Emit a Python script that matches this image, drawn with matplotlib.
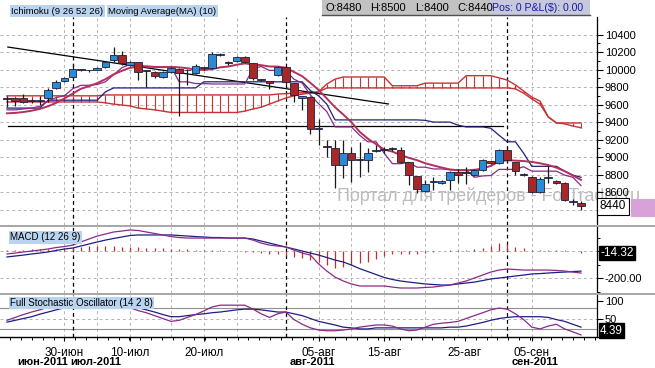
import numpy as np
import matplotlib
matplotlib.use("Agg")
import matplotlib.pyplot as plt
import matplotlib.transforms as mtransforms
from matplotlib.patches import Rectangle

plt.rcParams['font.family'] = ['Liberation Sans', 'DejaVu Sans']

W, H, DPI = 655, 368, 100

# ---------------- data ----------------
opens = [9665, 9675, 9675, 9650, 9645, 9675, 9790, 9870, 9915, 10000,
         9990, 9995, 10030, 10110, 10165, 10050, 10085, 9995, 9970, 9915,
         9970, 10005, 9995, 9960, 10020, 10015, 10170, 10085, 10095, 10145,
         10075, 9880, 9870, 9940, 10030, 9845, 9675, 9685, 9320, 9130,
         9105, 8910, 9045, 8970, 8965, 9070, 9080, 9095, 9080, 8945,
         8785, 8615, 8715, 8705, 8740, 8830, 8830, 8795, 8855, 8955,
         8935, 9080, 8945, 8800, 8775, 8600, 8760, 8725, 8705, 8490, 8480]
highs = [9700, 9680, 9720, 9660, 9700, 9790, 9880, 9910, 10060, 10010,
         10000, 10030, 10090, 10255, 10210, 10100, 10090, 10000, 9980, 9980,
         10030, 10020, 10005, 10060, 10030, 10200, 10190, 10100, 10150, 10150,
         10080, 9890, 9870, 10040, 10040, 9850, 9700, 9700, 9435, 9195,
         9195, 9195, 9115, 9175, 9100, 9140, 9110, 9110, 9115, 8950,
         8790, 8740, 8775, 8740, 8840, 8860, 8890, 8870, 8980, 8960,
         9090, 9090, 8950, 8820, 8790, 8770, 8900, 8740, 8720, 8520, 8500]
lows = [9570, 9580, 9620, 9620, 9600, 9630, 9780, 9860, 9900, 9980,
        9970, 9990, 10020, 10085, 10050, 10040, 9880, 9800, 9900, 9900,
        9960, 9470, 9825, 9950, 10000, 10005, 10160, 10050, 10090, 10080,
        9880, 9870, 9780, 9930, 9840, 9630, 9540, 9265, 9140, 9000,
        8650, 8760, 8715, 8775, 8830, 9060, 9050, 9070, 8930, 8680,
        8590, 8600, 8625, 8690, 8625, 8705, 8690, 8780, 8840, 8920,
        8920, 8950, 8795, 8780, 8590, 8590, 8700, 8690, 8500, 8450, 8400]
closes = [9660, 9640, 9630, 9640, 9650, 9765, 9860, 9905, 10005, 10000,
          9995, 10020, 10085, 10165, 10075, 10085, 9970, 9980, 9925, 9970,
          10020, 9960, 9990, 10040, 10015, 10175, 10180, 10080, 10145, 10085,
          9905, 9880, 9845, 10030, 9860, 9710, 9700, 9320, 9335, 9115,
          8910, 9045, 8965, 8965, 9045, 9075, 9085, 9090, 8945, 8795,
          8635, 8695, 8720, 8725, 8830, 8795, 8820, 8855, 8965, 8935,
          9080, 8965, 8840, 8795, 8600, 8750, 8760, 8705, 8510, 8490, 8440]

ma10 = [9500, 9505, 9515, 9530, 9550, 9580, 9620, 9670, 9725, 9780,
        9810, 9845, 9890, 9945, 9985, 10020, 10030, 10038, 10030, 10027,
        10030, 10025, 10015, 10000, 9995, 10005, 10025, 10035, 10055, 10070,
        10058, 10050, 10035, 10034, 10020, 9972, 9924, 9848, 9767, 9670,
        9570, 9487, 9399, 9290, 9211, 9148, 9086, 9063, 9024, 8992,
        8965, 8930, 8905, 8881, 8860, 8850, 8850, 8855, 8870, 8900,
        8950, 8965, 8960, 8955, 8945, 8930, 8910, 8880, 8840, 8790, 8740]
tenkan = [9540, 9540, 9550, 9560, 9580, 9640, 9680, 9700, 9780, 9820,
          9820, 9830, 9860, 9940, 10020, 10060, 10065, 10030, 10030, 10030,
          10030, 9860, 9860, 9840, 9840, 9835, 9835, 9835, 9835, 9835,
          10010, 10035, 9990, 9990, 9985, 9890, 9845, 9710, 9610, 9520,
          9345, 9345, 9345, 9250, 9175, 9175, 9045, 8925, 8925, 8940,
          8885, 8885, 8865, 8865, 8855, 8855, 8855, 8770, 8785, 8790,
          8860, 8860, 8860, 8890, 8840, 8840, 8840, 8840, 8795, 8770, 8675]
kijun = [9560, 9560, 9560, 9560, 9560, 9650, 9650, 9650, 9650, 9650,
         9650, 9650, 9745, 9790, 9790, 9790, 9790, 9790, 9790, 9790,
         9790, 9790, 9790, 9790, 9860, 9860, 9860, 9860, 9860, 9860,
         9860, 9860, 9860, 9860, 9860, 9860, 9860, 9760, 9700, 9605,
         9425, 9425, 9425, 9425, 9425, 9425, 9425, 9425, 9425, 9425,
         9425, 9420, 9400, 9400, 9400, 9365, 9345, 9345, 9345, 9330,
         9250, 9175, 9175, 9045, 8895, 8895, 8895, 8895, 8840, 8795, 8770]
span_a = [9700, 9700, 9700, 9700, 9700, 9700, 9700, 9700, 9700, 9700,
          9700, 9700, 9710, 9710, 9710, 9710, 9710, 9710, 9710, 9710,
          9710, 9710, 9710, 9710, 9710, 9710, 9710, 9710, 9710, 9710,
          9710, 9710, 9710, 9720, 9725, 9730, 9735, 9740, 9745, 9835,
          9890, 9915, 9915, 9915, 9915, 9915, 9915, 9815, 9815, 9815,
          9815, 9845, 9845, 9845, 9845, 9845, 9930, 9930, 9930, 9930,
          9905, 9880, 9825, 9755, 9685, 9640, 9460, 9390, 9380, 9355, 9335]
span_b = [9630, 9630, 9630, 9630, 9630, 9630, 9630, 9630, 9630, 9630,
          9630, 9630, 9620, 9605, 9595, 9585, 9560, 9550, 9540, 9525,
          9510, 9510, 9510, 9510, 9510, 9510, 9510, 9510, 9510, 9525,
          9550, 9570, 9605, 9640, 9675, 9700, 9720, 9730, 9745, 9790,
          9790, 9790, 9790, 9790, 9790, 9790, 9790, 9790, 9790, 9790,
          9790, 9790, 9790, 9790, 9790, 9790, 9790, 9790, 9790, 9790,
          9790, 9790, 9780, 9730, 9665, 9605, 9460, 9390, 9390, 9390, 9390]

trend_x = [0.1, 46.5]
trend_y = [10257, 9607]
support_x = [0.1, 60.5]
support_level = 9355

macd = [-22, -15, -7, 0, 7, 15, 26, 33, 44, 67,
        89, 111, 126, 141, 148, 156, 152, 141, 130, 119,
        107, 100, 96, 96, 96, 96, 96, 96, 96, 96,
        81, 59, 44, 37, 30, 7, -15, -30, -96, -148,
        -193, -222, -244, -259, -259, -259, -259, -267, -274, -274,
        -274, -270, -267, -259, -252, -237, -222, -200, -178, -156,
        -141, -133, -137, -141, -141, -141, -141, -144, -148, -156, -163]
macd_signal = [-44, -37, -30, -22, -15, -7, 4, 15, 22, 37,
               52, 67, 81, 93, 104, 115, 119, 119, 119, 119,
               119, 115, 111, 107, 104, 100, 100, 96, 96, 96,
               89, 74, 59, 44, 30, 15, 0, -15, -30, -48,
               -67, -81, -104, -130, -152, -174, -196, -211, -222, -230,
               -237, -244, -248, -252, -252, -244, -237, -230, -219, -207,
               -200, -193, -185, -178, -170, -167, -163, -159, -156, -152, -149]
macd_hist = [5, 8, 10, 12, 15, 15, 18, 20, 25, 30,
             35, 37, 37, 35, 33, 30, 28, 25, 22, 20,
             18, 15, 12, 10, 8, 6, 4, 2, 0, -5,
             -10, -15, -20, -25, -35, -44, -52, -67, -85, -104,
             -123, -115, -104, -89, -81, -59, -37, -25, -20, -25,
             -20, -15, -10, 3, 5, 8, 10, 15, 22, 37,
             57, 50, 30, 22, 10, 8, 8, 6, 4, 2, -14.32]

stoch_k = [45, 53, 61, 68, 74, 82, 87, 90, 92, 90,
           88, 90, 92, 92, 85, 80, 72, 66, 58, 50,
           42, 45, 53, 61, 71, 82, 87, 87, 87, 87,
           76, 63, 53, 63, 68, 47, 34, 24, 18, 16,
           16, 18, 21, 26, 29, 32, 32, 29, 21, 16,
           18, 26, 34, 37, 39, 42, 50, 58, 66, 74,
           79, 76, 63, 47, 26, 21, 29, 34, 21, 13, 4.39]
stoch_d = [40, 45, 50, 55, 62, 68, 74, 80, 84, 86,
           87, 88, 88, 89, 88, 85, 80, 74, 68, 61,
           55, 55, 58, 61, 63, 66, 68, 71, 74, 76,
           76, 74, 71, 68, 68, 63, 58, 50, 42, 37,
           32, 26, 24, 21, 21, 24, 24, 24, 24, 24,
           24, 24, 24, 24, 26, 26, 29, 34, 39, 45,
           50, 53, 55, 55, 55, 55, 53, 47, 42, 34, 26]

day_tick_pos = [7, 15, 24, 38, 46, 55.8, 64]
day_tick_labels = ['30-июн', '10-июл', '20-июл', '05-авг', '15-авг', '25-авг', '05-сен']
grid_pos = [7, 11, 15, 20, 24, 28, 38, 42, 46, 51, 55, 59, 64]
month_start_pos = [8, 34, 61]
month_labels = ['июн-2011', 'июл-2011', 'авг-2011', 'сен-2011']
month_label_pos = [7.45, 7.7, 34.5, 61.5]
month_label_ha = ['right', 'left', 'left', 'left']
price_ticks = [8400, 8600, 8800, 9000, 9200, 9400, 9600, 9800, 10000, 10200, 10400]

# ---------------- layout helpers ----------------
n = len(closes)
bars = np.arange(n)
X0, DX, XR = 7.0, 8.2, 597.0
xlim = ((0 - X0) / DX, (XR - X0) / DX)

fig = plt.figure(figsize=(W / DPI, H / DPI), dpi=DPI)
fig.patch.set_facecolor('white')


def add_panel(top, bottom):
    return fig.add_axes([0, 1 - bottom / H, XR / W, (bottom - top) / H])


def ftxt(x, y, s, **kw):
    return fig.text(x / W, 1 - y / H, s, **kw)


ax_p = add_panel(17, 225)
ax_m = add_panel(227, 293)
ax_s = add_panel(295, 336.5)
ax_p.set_ylim(8225, 10600)
ax_m.set_ylim(-311, 178)
ax_s.set_ylim(0, 115.3)

GRID = '#b4b4b4'
for ax in (ax_p, ax_m, ax_s):
    ax.set_xlim(*xlim)
    ax.set_facecolor('white')
    for sp in ('top', 'left', 'bottom'):
        ax.spines[sp].set_visible(False)
    ax.spines['right'].set_color('black')
    ax.spines['right'].set_linewidth(0.9)
    ax.yaxis.tick_right()
    ax.tick_params(axis='y', which='major', length=4, width=0.8, pad=1.5,
                   labelsize=8, colors='black', direction='out')
    ax.tick_params(axis='y', which='minor', length=2, width=0.7, direction='out')
    ax.tick_params(axis='x', which='both', bottom=False, labelbottom=False)
    for g in grid_pos:
        ax.axvline(g, color=GRID, lw=0.7, ls=(0, (3, 3)), zorder=0.5)
    for m in month_start_pos:
        ax.axvline(m, color='black', lw=0.9, ls=(0, (3, 2.5)), zorder=0.6)

# separators
for y0 in (225, 293):
    fig.add_artist(Rectangle((0, 1 - (y0 + 2.2) / H), 1, 2.2 / H, transform=fig.transFigure,
                             fc='#a8a8a8', ec='none', zorder=5))

# ---------------- price panel ----------------
for p in price_ticks:
    ax_p.axhline(p, color=GRID, lw=0.7, ls=(0, (3, 3)), zorder=0.5)
ax_p.set_yticks(price_ticks)
# the lowest level label sits under the last-price box in the reference
ax_p.set_yticklabels([''] + [str(p) for p in price_ticks[1:]])
ax_p.set_yticks([p + 100 for p in price_ticks[:-1]], minor=True)

ax_p.text(337 / W, 1 - 201 / H, 'Портал для трейдеров - ForTrader.ru', transform=fig.transFigure,
          fontsize=12.9, color='#bcbcbc', ha='left', va='baseline', zorder=1, clip_on=False)

CLOUD = '#c83232'
ax_p.vlines(bars, span_a, span_b, color=CLOUD, lw=0.8, zorder=1.5)
ax_p.plot(bars, span_a, color=CLOUD, lw=1.0, zorder=1.6)
ax_p.plot(bars, span_b, color=CLOUD, lw=1.0, zorder=1.6)

ax_p.plot(trend_x, trend_y, color='black', lw=0.9, zorder=2)
ax_p.plot(support_x, [support_level, support_level], color='black', lw=0.9, zorder=2)

ax_p.plot(bars, kijun, color='#1e1e7a', lw=0.9, zorder=2.2)
ax_p.plot(bars, tenkan, color='#8a2a86', lw=0.9, zorder=2.3)
ax_p.plot(bars, ma10, color='#b5305a', lw=1.4, zorder=2.4)

ax_p.vlines(bars, lows, highs, color='#1a1a1a', lw=0.9, zorder=3)
body_bottom = [min(o, c) for o, c in zip(opens, closes)]
body_h = [max(abs(c - o), 10) for o, c in zip(opens, closes)]
body_col = ['#2b8ad6' if c > o else ('#a82828' if c < o else '#4a6a8a')
            for o, c in zip(opens, closes)]
ax_p.bar(bars, body_h, bottom=body_bottom, width=0.92, color=body_col,
         edgecolor='#20203a', linewidth=0.6, zorder=4)

blend_p = mtransforms.blended_transform_factory(ax_p.transAxes, ax_p.transData)
ax_p.text(1 + 3 / XR, closes[-1], str(closes[-1]), transform=blend_p, fontsize=8.5,
          ha='left', va='center', zorder=10, clip_on=False,
          bbox=dict(boxstyle='square,pad=0.22', fc='white', ec='black', lw=0.8))
fig.add_artist(Rectangle((631 / W, 1 - 217 / H), 24 / W, 18 / H, transform=fig.transFigure,
                         fc='#d8a2d8', ec='none', zorder=4))

# header
ftxt(11, 11, 'Ichimoku (9 26 52 26)', fontsize=6.8, va='center', ha='left',
     bbox=dict(boxstyle='square,pad=0.15', fc='#b8d4f0', ec='none'))
ftxt(108, 11, 'Moving Average(MA) (10)', fontsize=6.8, va='center', ha='left',
     bbox=dict(boxstyle='square,pad=0.15', fc='#b8d4f0', ec='none'))
fig.add_artist(Rectangle((322 / W, 1 - 15 / H), 268 / W, 15 / H, transform=fig.transFigure,
                         fc='#c2c2c2', ec='none'))
fig.add_artist(Rectangle((490 / W, 1 - 15 / H), 100 / W, 15 / H, transform=fig.transFigure,
                         fc='#c6c8dc', ec='none'))
fig.add_artist(plt.Line2D([322 / W, 590 / W], [1 - 15 / H, 1 - 15 / H], transform=fig.transFigure,
                          color='#505050', lw=1))
ftxt(325, 8, f'O:{opens[-1]}', fontsize=8, va='center')
ftxt(370, 8, f'H:{highs[-1]}', fontsize=8, va='center')
ftxt(415, 8, f'L:{lows[-1]}', fontsize=8, va='center')
ftxt(457, 8, f'C:{closes[-1]}', fontsize=8, va='center')
ftxt(492, 8, 'Pos: 0 P&L($): 0.00', fontsize=7.6, va='center', color='#1a1aa8')

# ---------------- MACD panel ----------------
for v in (0, -200):
    ax_m.axhline(v, color=GRID, lw=0.7, ls=(0, (3, 3)), zorder=0.5)
ax_m.vlines(bars, 0, macd_hist, color='#c03030', lw=0.9, zorder=2)
ax_m.plot(bars, macd_signal, color='#1e1e80', lw=0.9, zorder=3)
ax_m.plot(bars, macd, color='#8a2a8a', lw=0.9, zorder=3)
ax_m.set_yticks([0, -200])
ax_m.set_yticklabels(['0.00', '-200.00'])
ax_m.set_yticks([100, -100, -300], minor=True)
blend_m = mtransforms.blended_transform_factory(ax_m.transAxes, ax_m.transData)
ax_m.text(1 + 3.5 / XR, macd_hist[-1], f'{macd_hist[-1]:.2f}', transform=blend_m, fontsize=8.5,
          color='white', ha='left', va='center', zorder=10, clip_on=False,
          bbox=dict(boxstyle='square,pad=0.12', fc='black', ec='black'))
ftxt(10, 237.5, 'MACD (12 26 9)', fontsize=7, va='center', ha='left', zorder=10,
     bbox=dict(boxstyle='square,pad=0.15', fc='#b8d4f0', ec='none'))

# ---------------- Stochastic panel ----------------
for v in (80, 20):
    ax_s.axhline(v, color='#909090', lw=0.8, zorder=0.5)
ax_s.axhline(50, color=GRID, lw=0.7, ls=(0, (3, 3)), zorder=0.5)
ax_s.plot(bars, stoch_d, color='#1e1e80', lw=0.9, zorder=3)
ax_s.plot(bars, stoch_k, color='#8a2a8a', lw=0.9, zorder=3)
ax_s.set_yticks([100, 50, 0])
ax_s.set_yticklabels(['100', '50', ''])
ax_s.spines['bottom'].set_visible(True)
ax_s.spines['bottom'].set_color('black')
ax_s.spines['bottom'].set_linewidth(1.0)
blend_s = mtransforms.blended_transform_factory(ax_s.transAxes, ax_s.transData)
ax_s.annotate(f'{stoch_k[-1]:.2f}', xy=(1 + 3 / XR, stoch_k[-1]), xycoords=blend_s,
              xytext=(0, 3), textcoords='offset points', fontsize=8.5, color='white',
              ha='left', va='center', zorder=10, annotation_clip=False,
              bbox=dict(boxstyle='square,pad=0.12', fc='black', ec='black'))
ftxt(10, 303, 'Full Stochastic Oscillator (14 2 8)', fontsize=7, va='center', ha='left', zorder=10,
     bbox=dict(boxstyle='square,pad=0.15', fc='#b8d4f0', ec='none'))

ax_s.tick_params(axis='x', which='major', bottom=True, labelbottom=True, length=3,
                 width=0.8, pad=4.5, labelsize=8.5, direction='out')
ax_s.tick_params(axis='x', which='minor', bottom=True, length=2.5, width=0.7, direction='out')
ax_s.set_xticks(day_tick_pos)
ax_s.set_xticklabels(day_tick_labels)
ax_s.set_xticks(np.arange(7 - 1.32 * 5, xlim[1], 1.32), minor=True)

blend_x = mtransforms.blended_transform_factory(ax_s.transData, fig.transFigure)
for pos, lab, ha in zip(month_label_pos, month_labels, month_label_ha):
    ax_s.text(pos, 1 - 362 / H, lab, transform=blend_x, fontsize=8, fontweight='bold',
              ha=ha, va='center', clip_on=False)

fig.savefig('out.png', dpi=DPI, facecolor='white')
